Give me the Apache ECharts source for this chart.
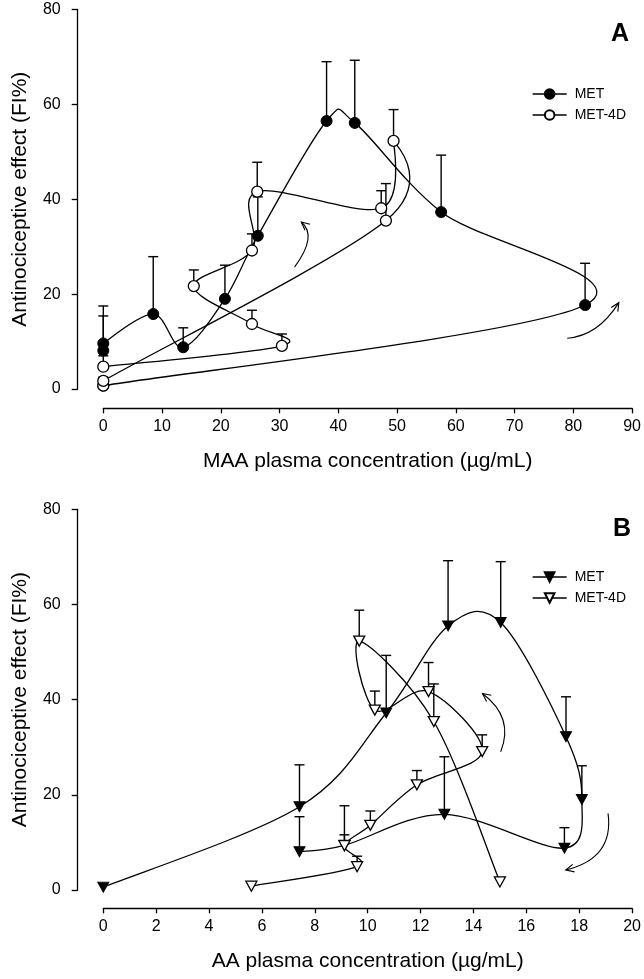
<!DOCTYPE html>
<html><head><meta charset="utf-8">
<script src="https://cdn.jsdelivr.net/npm/echarts@6/dist/echarts.min.js"></script>
<style>html,body{margin:0;padding:0;background:#fff}#c{width:644px;height:979px}</style>
</head><body><div id="c"></div>
<script>
// ---------- Data ----------
// Panel A: MAA plasma concentration vs effect (in the order of the connecting curve)
const maaMET      = [0, 82.0, 57.5, 42.8, 38.0, 26.3, 20.7, 13.6, 8.5, 0, 0];
const effMET_A    = [0.7, 17.7, 37.3, 56.1, 56.5, 32.3, 19.0, 8.8, 15.8, 9.6, 8.1];
const errMET_A    = [null, 26.5, 49.3, 69.3, 69.0, 40.5, 26.1, 12.9, 27.9, 17.5, 15.4];

const maaMET4D    = [0, 0, 48.1, 49.4, 47.3, 26.2, 25.3, 15.4, 25.3, 30.4, 0];
const effMET4D_A  = [0.7, 1.7, 35.5, 52.3, 38.1, 41.6, 29.2, 21.7, 13.7, 9.1, 4.7];
const errMET4D_A  = [null, 2.5, 43.3, 58.9, 41.8, 47.8, 32.7, 25.1, 16.6, 11.6, 7.0];

// Panel B: AA plasma concentration vs effect
const aaMET       = [0, 7.42, 10.7, 13.04, 15.03, 17.5, 18.1, 17.44, 12.9, 9.12, 7.42];
const effMET_B    = [0.6, 17.5, 37.2, 55.5, 56.2, 32.2, 19.0, 8.8, 15.9, 9.4, 8.05];
const errMET_B    = [null, 26.3, 49.3, 69.2, 69.0, 40.6, 26.1, 13.1, 28.0, 17.7, 15.4];

const aaMET4D     = [5.6, 9.6, 9.12, 10.1, 11.86, 14.33, 12.3, 10.27, 9.68, 12.5, 15.0];
const effMET4D_B  = [0.8, 4.9, 9.3, 13.6, 22.1, 29.1, 41.7, 37.8, 52.3, 35.4, 1.7];
const errMET4D_B  = [null, 7.1, 11.6, 16.6, 25.1, 32.6, 47.8, 41.8, 58.8, 43.3, null];

// Axis settings
const xMaxA = 90, xStepA = 10, xMaxB = 20, xStepB = 2, yMax = 80, yStep = 20;

// Direction arrows (annotation): [startX, startY, ctrlX, ctrlY, endX, endY] in data units
const arrowsA = [[32.55, 25.7, 36.5, 32.3, 33.7, 35.2], [78.96, 10.7, 84.2, 11.2, 87.74, 18.2]];
const arrowsB = [[15.03, 29.05, 15.55, 36.25, 14.34, 41.3], [19.09, 16.1, 19.32, 6.66, 17.49, 4.2]];

// ---------- Chart ----------
const FONT = '"Liberation Sans", Arial, sans-serif';
const BLACK = '#000';

function pts(xs, ys) { return xs.map((x, i) => [x, ys[i]]); }
function errPts(xs, ys, tops) {
  const out = [];
  xs.forEach((x, i) => { if (tops[i] != null) out.push([x, ys[i], tops[i]]); });
  return out;
}
function errRender(params, api) {
  const p0 = api.coord([api.value(0), api.value(1)]);
  const p1 = api.coord([api.value(0), api.value(2)]);
  const st = { stroke: BLACK, lineWidth: 1.4 };
  return { type: 'group', children: [
    { type: 'line', shape: { x1: p0[0], y1: p0[1], x2: p1[0], y2: p1[1] }, style: st },
    { type: 'line', shape: { x1: p1[0] - 5, y1: p1[1], x2: p1[0] + 5, y2: p1[1] }, style: st }
  ]};
}
function arrowRender(params, api) {
  const s = api.coord([api.value(0), api.value(1)]);
  const c = api.coord([api.value(2), api.value(3)]);
  const e = api.coord([api.value(4), api.value(5)]);
  const dx = e[0] - c[0], dy = e[1] - c[1], L = Math.hypot(dx, dy);
  const bx = -dx / L, by = -dy / L, len = 9, a = 0.45;
  const r = (ang) => [e[0] + len * (bx * Math.cos(ang) - by * Math.sin(ang)),
                      e[1] + len * (bx * Math.sin(ang) + by * Math.cos(ang))];
  const st = { stroke: BLACK, lineWidth: 1.1, fill: null };
  return { type: 'group', children: [
    { type: 'bezierCurve', shape: { x1: s[0], y1: s[1], cpx1: c[0], cpy1: c[1], x2: e[0], y2: e[1] }, style: st },
    { type: 'polyline', shape: { points: [r(a), e, r(-a)] }, style: st }
  ]};
}
// Catmull-Rom style spline segment i -> i+1 through the series points (pixel space),
// control handles limited to the length of their own segment.
function makeCurveSeries(grid, xs, ys) {
  return {
    type: 'custom', xAxisIndex: grid, yAxisIndex: grid, data: pts(xs, ys), z: 2, silent: true,
    encode: { x: 0, y: 1 },
    renderItem: function (params, api) {
      const i = params.dataIndex, n = xs.length;
      if (i >= n - 1) return null;
      const P = (k) => { k = Math.max(0, Math.min(n - 1, k)); return api.coord([xs[k], ys[k]]); };
      const p0 = P(i - 1), p1 = P(i), p2 = P(i + 1), p3 = P(i + 2);
      const segLen = Math.hypot(p2[0] - p1[0], p2[1] - p1[1]);
      function handle(prev, next, sign) {
        let hx = (next[0] - prev[0]) / 6 * sign, hy = (next[1] - prev[1]) / 6 * sign;
        const hl = Math.hypot(hx, hy), lim = segLen * 0.95;
        if (hl > lim && hl > 0) { hx *= lim / hl; hy *= lim / hl; }
        return [hx, hy];
      }
      const h1 = handle(p0, p2, 1), h2 = handle(p1, p3, -1);
      return { type: 'bezierCurve',
        shape: { x1: p1[0], y1: p1[1], cpx1: p1[0] + h1[0], cpy1: p1[1] + h1[1],
                 cpx2: p2[0] + h2[0], cpy2: p2[1] + h2[1], x2: p2[0], y2: p2[1] },
        style: { stroke: BLACK, lineWidth: 1.3, fill: null } };
    }
  };
}

function xAxisCfg(grid, max, step, name, offset) {
  return {
    gridIndex: grid, type: 'value', min: 0, max: max, interval: step, offset: offset,
    axisLine: { show: true, onZero: false, lineStyle: { color: BLACK, width: 1.3 } },
    axisTick: { show: true, length: 5, lineStyle: { color: BLACK, width: 1.3 } },
    axisLabel: { color: BLACK, fontSize: 16, fontFamily: FONT, margin: 10 },
    splitLine: { show: false },
    name: name, nameLocation: 'middle', nameGap: 42,
    nameTextStyle: { color: BLACK, fontSize: 21, fontFamily: FONT }
  };
}
function yAxisCfg(grid) {
  return {
    gridIndex: grid, type: 'value', min: 0, max: yMax, interval: yStep, offset: 25.6,
    axisLine: { show: true, onZero: false, lineStyle: { color: BLACK, width: 1.3 } },
    axisTick: { show: true, length: 6, lineStyle: { color: BLACK, width: 1.3 } },
    axisLabel: { color: BLACK, fontSize: 16, fontFamily: FONT, margin: 17 },
    splitLine: { show: false },
    name: 'Antinociceptive effect (FI%)', nameLocation: 'middle', nameGap: 47, nameRotate: 90,
    nameTextStyle: { color: BLACK, fontSize: 21, fontFamily: FONT }
  };
}
function markerSeries(name, grid, data, symbol, filled) {
  return {
    type: 'line', name: name, xAxisIndex: grid, yAxisIndex: grid, data: data,
    symbol: symbol, symbolSize: symbol === 'circle' ? 11 : [11, 10],
    symbolRotate: symbol === 'triangle' ? 180 : 0, showAllSymbol: true, z: 3,
    lineStyle: { color: BLACK, width: 0, opacity: 0 },
    itemStyle: filled ? { color: BLACK, borderColor: BLACK, borderWidth: 1 }
                      : { color: '#fff', borderColor: BLACK, borderWidth: 1.3 },
    emphasis: { disabled: true }, silent: true
  };
}
function errSeries(grid, data) {
  return { type: 'custom', xAxisIndex: grid, yAxisIndex: grid, data: data, renderItem: errRender,
           z: 1, silent: true, encode: { x: 0, y: [1, 2] } };
}
function arrowSeries(grid, data) {
  return { type: 'custom', xAxisIndex: grid, yAxisIndex: grid, data: data, renderItem: arrowRender,
           z: 1, silent: true, clip: false, encode: { x: [0, 2, 4], y: [1, 3, 5] } };
}
function legendCfg(names, top) {
  return {
    data: names, orient: 'vertical', left: 527, top: top, itemWidth: 34, itemHeight: 12, itemGap: 7,
    selectedMode: false, formatter: (n) => n.replace(' (B)', ''),
    lineStyle: { color: BLACK, width: 1.3, opacity: 1 },
    textStyle: { color: BLACK, fontSize: 14, fontFamily: FONT, padding: [0, 0, 0, 3] }
  };
}

const chart = echarts.init(document.getElementById('c'), null, { renderer: 'canvas' });
chart.setOption({
  backgroundColor: '#fff',
  animation: false,
  grid: [
    { left: 103.3, right: 10.7, top: 9.5, height: 379.5 },
    { left: 103.3, right: 10.7, top: 509.3, height: 380.7 }
  ],
  xAxis: [
    xAxisCfg(0, xMaxA, xStepA, 'MAA plasma concentration (µg/mL)', 19.3),
    xAxisCfg(1, xMaxB, xStepB, 'AA plasma concentration (µg/mL)', 18.3)
  ],
  yAxis: [yAxisCfg(0), yAxisCfg(1)],
  legend: [legendCfg(['MET', 'MET-4D'], 82), legendCfg(['MET (B)', 'MET-4D (B)'], 565)],
  graphic: [
    { type: 'text', left: 611, top: 22, style: { text: 'A', fontSize: 25, fontWeight: 'bold', fontFamily: FONT, fill: BLACK } },
    { type: 'text', left: 613, top: 517, style: { text: 'B', fontSize: 25, fontWeight: 'bold', fontFamily: FONT, fill: BLACK } }
  ],
  series: [
    arrowSeries(0, arrowsA),
    arrowSeries(1, arrowsB),
    errSeries(0, errPts(maaMET, effMET_A, errMET_A)),
    errSeries(0, errPts(maaMET4D, effMET4D_A, errMET4D_A)),
    errSeries(1, errPts(aaMET, effMET_B, errMET_B)),
    errSeries(1, errPts(aaMET4D, effMET4D_B, errMET4D_B)),
    makeCurveSeries(0, maaMET, effMET_A),
    makeCurveSeries(0, maaMET4D, effMET4D_A),
    makeCurveSeries(1, aaMET, effMET_B),
    makeCurveSeries(1, aaMET4D, effMET4D_B),
    markerSeries('MET', 0, pts(maaMET, effMET_A), 'circle', true),
    markerSeries('MET-4D', 0, pts(maaMET4D, effMET4D_A), 'circle', false),
    markerSeries('MET (B)', 1, pts(aaMET, effMET_B), 'triangle', true),
    markerSeries('MET-4D (B)', 1, pts(aaMET4D, effMET4D_B), 'triangle', false)
  ]
});
</script></body></html>
